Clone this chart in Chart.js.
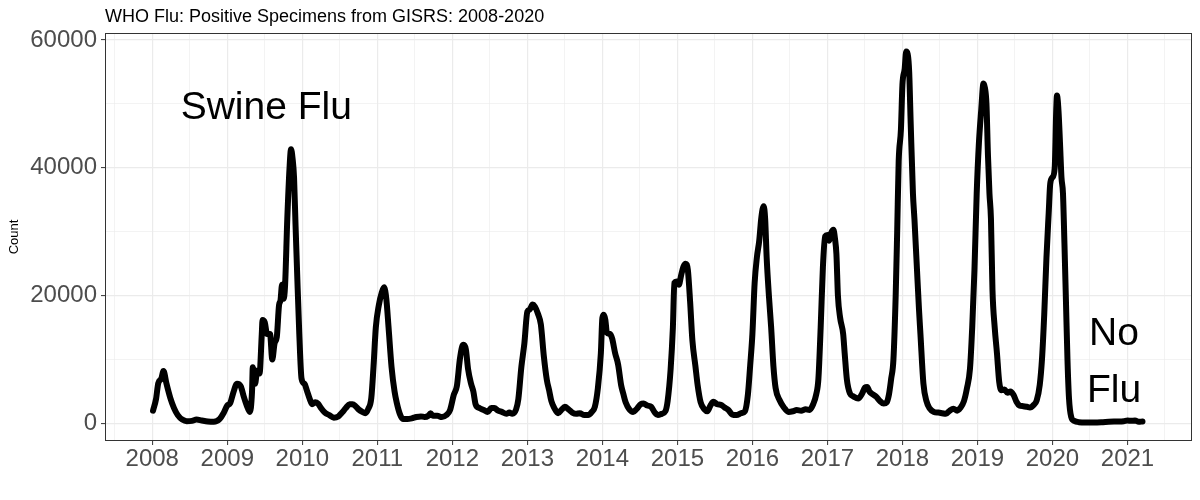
<!DOCTYPE html>
<html>
<head>
<meta charset="utf-8">
<title>WHO Flu: Positive Specimens from GISRS: 2008-2020</title>
<script src="https://cdn.jsdelivr.net/npm/chart.js@4"></script>
<style>
  body { margin: 0; background: #ffffff; }
  #wrap { width: 1200px; height: 500px; }
</style>
</head>
<body>
<div id="wrap"><canvas id="fluChart" width="1200" height="500"></canvas></div>
<script>
// Week positions (decimal years)
var weeks = [
  2008.01, 2008.05, 2008.08, 2008.12, 2008.15, 2008.19, 2008.24, 2008.29, 2008.34, 2008.40,
  2008.46, 2008.53, 2008.59, 2008.66, 2008.74, 2008.82, 2008.90, 2008.95, 2009.00, 2009.04,
  2009.08, 2009.13, 2009.18, 2009.22, 2009.26, 2009.30, 2009.33, 2009.34, 2009.37, 2009.40,
  2009.43, 2009.46, 2009.47, 2009.50, 2009.53, 2009.57, 2009.60, 2009.63, 2009.66, 2009.69,
  2009.71, 2009.73, 2009.75, 2009.77, 2009.80, 2009.83, 2009.85, 2009.87, 2009.89, 2009.91,
  2009.93, 2009.96, 2009.99, 2010.03, 2010.06, 2010.10, 2010.13, 2010.17, 2010.21, 2010.25,
  2010.30, 2010.36, 2010.42, 2010.48, 2010.53, 2010.58, 2010.63, 2010.67, 2010.71, 2010.75,
  2010.80, 2010.84, 2010.88, 2010.92, 2010.95, 2010.98, 2011.02, 2011.06, 2011.09, 2011.12,
  2011.15, 2011.19, 2011.23, 2011.26, 2011.30, 2011.34, 2011.40, 2011.46, 2011.52, 2011.58,
  2011.63, 2011.68, 2011.71, 2011.74, 2011.80, 2011.86, 2011.92, 2011.97, 2012.02, 2012.06,
  2012.10, 2012.13, 2012.15, 2012.18, 2012.21, 2012.25, 2012.28, 2012.31, 2012.36, 2012.42,
  2012.47, 2012.52, 2012.56, 2012.61, 2012.66, 2012.72, 2012.76, 2012.80, 2012.85, 2012.88,
  2012.92, 2012.96, 2013.00, 2013.03, 2013.07, 2013.10, 2013.14, 2013.18, 2013.22, 2013.26,
  2013.29, 2013.32, 2013.36, 2013.41, 2013.46, 2013.50, 2013.55, 2013.60, 2013.65, 2013.70,
  2013.76, 2013.81, 2013.86, 2013.90, 2013.94, 2013.98, 2014.00, 2014.02, 2014.04, 2014.06,
  2014.10, 2014.13, 2014.17, 2014.21, 2014.25, 2014.28, 2014.31, 2014.36, 2014.41, 2014.46,
  2014.51, 2014.55, 2014.60, 2014.65, 2014.70, 2014.74, 2014.79, 2014.84, 2014.87, 2014.91,
  2014.94, 2014.96, 2014.99, 2015.02, 2015.05, 2015.08, 2015.11, 2015.14, 2015.17, 2015.20,
  2015.24, 2015.27, 2015.31, 2015.36, 2015.40, 2015.44, 2015.48, 2015.53, 2015.58, 2015.63,
  2015.68, 2015.73, 2015.79, 2015.85, 2015.90, 2015.94, 2015.97, 2016.00, 2016.03, 2016.06,
  2016.09, 2016.12, 2016.15, 2016.17, 2016.19, 2016.22, 2016.25, 2016.28, 2016.31, 2016.36,
  2016.42, 2016.48, 2016.54, 2016.59, 2016.65, 2016.71, 2016.76, 2016.81, 2016.85, 2016.88,
  2016.91, 2016.94, 2016.97, 2017.00, 2017.02, 2017.05, 2017.08, 2017.10, 2017.12, 2017.14,
  2017.17, 2017.21, 2017.23, 2017.26, 2017.30, 2017.35, 2017.41, 2017.46, 2017.50, 2017.53,
  2017.56, 2017.60, 2017.65, 2017.70, 2017.75, 2017.79, 2017.82, 2017.85, 2017.88, 2017.91,
  2017.93, 2017.95, 2017.98, 2018.00, 2018.03, 2018.05, 2018.07, 2018.09, 2018.11, 2018.14,
  2018.16, 2018.19, 2018.22, 2018.24, 2018.28, 2018.32, 2018.36, 2018.42, 2018.48, 2018.53,
  2018.58, 2018.63, 2018.68, 2018.73, 2018.77, 2018.82, 2018.86, 2018.90, 2018.93, 2018.96,
  2018.99, 2019.02, 2019.05, 2019.08, 2019.10, 2019.12, 2019.14, 2019.16, 2019.18, 2019.20,
  2019.23, 2019.26, 2019.29, 2019.32, 2019.36, 2019.40, 2019.44, 2019.48, 2019.52, 2019.56,
  2019.61, 2019.66, 2019.70, 2019.75, 2019.79, 2019.83, 2019.86, 2019.89, 2019.92, 2019.95,
  2019.97, 2020.00, 2020.03, 2020.05, 2020.06, 2020.08, 2020.10, 2020.12, 2020.14, 2020.16,
  2020.18, 2020.20, 2020.22, 2020.25, 2020.29, 2020.35, 2020.45, 2020.55, 2020.65, 2020.75,
  2020.85, 2020.95, 2021.00, 2021.05, 2021.10, 2021.15, 2021.20
];

// Positive specimen counts for each week above
var counts = [
  2000, 3800, 6300, 7000, 8200, 6200, 4000, 2400, 1300, 600,
  350, 400, 600, 450, 300, 250, 700, 1600, 2800, 3200,
  4800, 6200, 5800, 4200, 2800, 1800, 5000, 8800, 6200, 8300,
  7800, 14000, 16200, 15800, 14000, 14000, 10000, 12500, 13500, 18500,
  19300, 21700, 19500, 21500, 32000, 40000, 42900, 41500, 38500, 31000,
  24000, 14000, 7000, 6200, 5200, 3800, 3000, 3300, 3100, 2400,
  1700, 1300, 900, 1100, 1700, 2400, 3000, 3000, 2700, 2200,
  1800, 1600, 2300, 4000, 9000, 15000, 18500, 20500, 21300, 19500,
  15000, 8800, 5000, 3200, 1500, 700, 700, 800, 1000, 1100,
  1000, 1200, 1600, 1200, 1200, 1000, 1300, 2100, 4500, 5800,
  10000, 12000, 12300, 11600, 8500, 6200, 5000, 3000, 2400, 2100,
  1800, 2400, 2400, 2000, 1800, 1500, 1700, 1500, 2200, 3800,
  8800, 12500, 17500, 17800, 18600, 18300, 17200, 15500, 10500, 6800,
  5200, 3500, 2400, 1600, 2200, 2600, 2200, 1700, 1500, 1600,
  1300, 1300, 1800, 2600, 5500, 11000, 16500, 17000, 16200, 14200,
  14000, 13300, 11000, 9200, 6000, 4600, 3300, 2200, 1800, 2300,
  3000, 3100, 2800, 2600, 1700, 1300, 1500, 1900, 3500, 8500,
  15000, 22000, 22200, 21700, 23200, 24500, 25000, 24000, 19000, 13000,
  9000, 6000, 3300, 2200, 1900, 2800, 3400, 3000, 2900, 2500,
  2100, 1400, 1300, 1600, 1900, 4500, 9000, 14000, 22000, 26000,
  28500, 32300, 34000, 32000, 26000, 20000, 15000, 9000, 5500, 3700,
  2500, 1800, 1900, 2100, 2000, 2200, 2100, 3000, 4500, 7000,
  15000, 24500, 29300, 29500, 28600, 29800, 30300, 29000, 26500, 20000,
  16500, 14000, 11000, 6800, 4700, 4200, 3900, 4600, 5600, 5700,
  5000, 4600, 4200, 3500, 3100, 3300, 4500, 7000, 10000, 20000,
  30000, 41000, 46000, 53000, 55500, 58200, 57800, 55000, 47000, 36000,
  32000, 25000, 18000, 14000, 6200, 3500, 2400, 1800, 1700, 1600,
  1500, 2000, 2300, 2000, 2400, 3500, 5500, 8500, 15000, 24000,
  36000, 44000, 49000, 53200, 52500, 50000, 42000, 36000, 32000, 21000,
  15000, 11000, 6500, 5200, 5300, 4800, 5000, 4500, 3400, 2800,
  2700, 2600, 2500, 2900, 3600, 6000, 10000, 17000, 26000, 33000,
  37500, 38500, 40000, 49000, 51300, 49000, 44000, 38500, 36000, 28000,
  19000, 10000, 4000, 1000, 400, 200, 150, 150, 180, 250,
  300, 350, 450, 400, 450, 250, 300
];

// Axis ticks: grid positions and their labels ("" = minor grid line, no label)
var xTickValues = [2007.5, 2008, 2008.5, 2009, 2009.5, 2010, 2010.5, 2011, 2011.5, 2012, 2012.5,
  2013, 2013.5, 2014, 2014.5, 2015, 2015.5, 2016, 2016.5, 2017, 2017.5, 2018, 2018.5,
  2019, 2019.5, 2020, 2020.5, 2021, 2021.5];
var xTickLabels = ["", "2008", "", "2009", "", "2010", "", "2011", "", "2012", "",
  "2013", "", "2014", "", "2015", "", "2016", "", "2017", "", "2018", "",
  "2019", "", "2020", "", "2021", ""];
var yTickValues = [0, 10000, 20000, 30000, 40000, 50000, 60000];
var yTickLabels = ["0", "", "20000", "", "40000", "", "60000"];

// Text notes placed on the chart (x in years, y in counts at the text baseline)
var noteTexts = ["Swine Flu", "No", "Flu"];
var noteX = [2009.52, 2020.82, 2020.82];
var noteY = [47600, 12250, 3380];

var titleText = "WHO Flu: Positive Specimens from GISRS: 2008-2020";
var fontFamily = "'Liberation Sans', Arial, Helvetica, sans-serif";

var points = [];
for (var i = 0; i < weeks.length; i++) {
  points.push({ x: weeks[i], y: counts[i] });
}

function labelFor(values, labels, v) {
  for (var k = 0; k < values.length; k++) {
    if (Math.abs(values[k] - v) < 1e-6) return labels[k];
  }
  return "";
}
function isMajor(values, labels, c) {
  return !!(c.tick && labelFor(values, labels, c.tick.value) !== "");
}

// title, notes and the panel border
var extrasPlugin = {
  id: "extras",
  afterDraw: function (chart) {
    var ctx = chart.ctx;
    var area = chart.chartArea;
    var xs = chart.scales.x;
    var ys = chart.scales.y;
    ctx.save();
    ctx.strokeStyle = "#333333";
    ctx.lineWidth = 1;
    ctx.strokeRect(area.left + 0.5, area.top + 0.5, area.right - area.left - 1, area.bottom - area.top - 1);

    ctx.fillStyle = "#000000";
    ctx.textAlign = "left";
    ctx.textBaseline = "alphabetic";
    ctx.font = "18px " + fontFamily;
    ctx.fillText(titleText, area.left, 22);

    ctx.textAlign = "center";
    ctx.font = "39px " + fontFamily;
    for (var k = 0; k < noteTexts.length; k++) {
      ctx.fillText(noteTexts[k], xs.getPixelForValue(noteX[k]), ys.getPixelForValue(noteY[k]));
    }
    ctx.restore();
  }
};

var ctx = document.getElementById("fluChart").getContext("2d");
var fluChart = new Chart(ctx, {
  type: "line",
  data: {
    datasets: [
      {
        label: "Positive specimens",
        data: points,
        borderColor: "#000000",
        borderWidth: 6,
        pointRadius: 0,
        fill: false,
        cubicInterpolationMode: "monotone",
        borderJoinStyle: "round",
        borderCapStyle: "round"
      }
    ]
  },
  options: {
    responsive: false,
    animation: false,
    layout: { padding: { top: 33, right: 8, left: 0, bottom: 0 } },
    plugins: {
      legend: { display: false },
      tooltip: { enabled: false }
    },
    scales: {
      x: {
        type: "linear",
        min: 2007.37,
        max: 2021.86,
        afterBuildTicks: function (scale) {
          scale.ticks = xTickValues.map(function (v) { return { value: v }; });
        },
        afterFit: function (scale) { scale.height = 59; },
        border: { display: false },
        grid: {
          color: "#ebebeb",
          lineWidth: function (c) { return isMajor(xTickValues, xTickLabels, c) ? 1.2 : 0.6; },
          tickColor: function (c) { return isMajor(xTickValues, xTickLabels, c) ? "#333333" : "rgba(0,0,0,0)"; },
          tickLength: 4,
          tickWidth: 1
        },
        ticks: {
          autoSkip: false,
          maxRotation: 0,
          padding: 0,
          color: "#4d4d4d",
          font: { family: fontFamily, size: 24 },
          callback: function (value) { return labelFor(xTickValues, xTickLabels, value); }
        }
      },
      y: {
        type: "linear",
        min: -2750,
        max: 61100,
        afterBuildTicks: function (scale) {
          scale.ticks = yTickValues.map(function (v) { return { value: v }; });
        },
        afterFit: function (scale) { scale.width = 105; },
        border: { display: false },
        title: {
          display: true,
          text: "Count",
          color: "#000000",
          font: { family: fontFamily, size: 13 },
          padding: { top: 7, bottom: 0 }
        },
        grid: {
          color: "#ebebeb",
          lineWidth: function (c) { return isMajor(yTickValues, yTickLabels, c) ? 1.2 : 0.6; },
          tickColor: function (c) { return isMajor(yTickValues, yTickLabels, c) ? "#333333" : "rgba(0,0,0,0)"; },
          tickLength: 4,
          tickWidth: 1
        },
        ticks: {
          autoSkip: false,
          padding: 4,
          color: "#4d4d4d",
          font: { family: fontFamily, size: 24 },
          callback: function (value) { return labelFor(yTickValues, yTickLabels, value); }
        }
      }
    }
  },
  plugins: [extrasPlugin]
});
</script>
</body>
</html>
